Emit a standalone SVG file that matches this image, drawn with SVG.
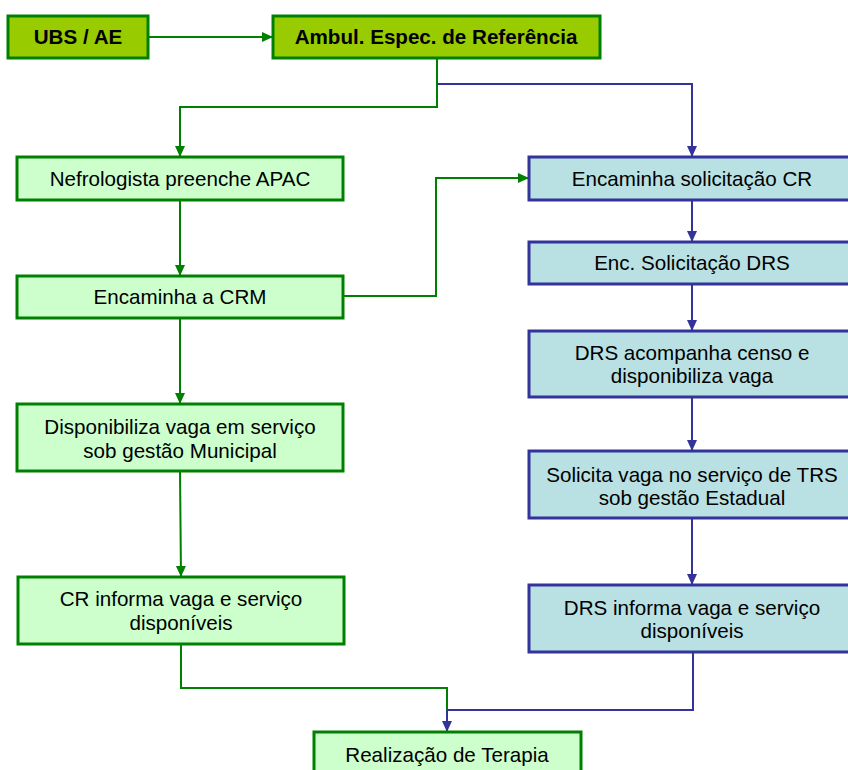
<svg xmlns="http://www.w3.org/2000/svg" width="848" height="770" viewBox="0 0 848 770">
  <style>
    text { font-family: "Liberation Sans", Arial, sans-serif; font-size: 20.6px; fill: #000; text-anchor: middle; }
    .title { font-weight: bold; }
    .head { fill: #99cc00; stroke: #008000; stroke-width: 3; }
    .mun { fill: #ccffcc; stroke: #008000; stroke-width: 3; }
    .est { fill: #b9e0e3; stroke: #333399; stroke-width: 3; }
    .g { fill: none; stroke: #008000; stroke-width: 2; }
    .b { fill: none; stroke: #333399; stroke-width: 2; }
  </style>
  <defs>
    <marker id="arrG" markerUnits="userSpaceOnUse" markerWidth="12" markerHeight="12" viewBox="0 0 12 12" refX="11" refY="6" orient="auto">
      <path d="M0,1 L11,6 L0,11 Z" fill="#008000"/>
    </marker>
    <marker id="arrB" markerUnits="userSpaceOnUse" markerWidth="12" markerHeight="12" viewBox="0 0 12 12" refX="11" refY="6" orient="auto">
      <path d="M0,1 L11,6 L0,11 Z" fill="#333399"/>
    </marker>
  </defs>

  <!-- connectors -->
  <g id="connectors">
    <path class="g" d="M148,37 H273" marker-end="url(#arrG)"/>
    <path class="g" d="M437,58 V107 H180 V157" marker-end="url(#arrG)"/>
    <path class="b" d="M437,84 H692 V157" marker-end="url(#arrB)"/>
    <path class="g" d="M180,200 V276" marker-end="url(#arrG)"/>
    <path class="g" d="M343,296 H436 V178 H529" marker-end="url(#arrG)"/>
    <path class="g" d="M180,318 V404" marker-end="url(#arrG)"/>
    <path class="g" d="M180,471 L181,577" marker-end="url(#arrG)"/>
    <path class="g" d="M181,644 V688 H447 V710"/>
    <path class="b" d="M692,200 V242" marker-end="url(#arrB)"/>
    <path class="b" d="M692,284 V331" marker-end="url(#arrB)"/>
    <path class="b" d="M692,397 V451" marker-end="url(#arrB)"/>
    <path class="b" d="M692,518 V585" marker-end="url(#arrB)"/>
    <path class="b" d="M693,652 V710 H447 V732" marker-end="url(#arrB)"/>
  </g>

  <!-- top level -->
  <g id="ubs">
    <rect class="head" x="8" y="16" width="140" height="42"/>
    <text class="title" x="78" y="44">UBS / AE</text>
  </g>
  <g id="ambulatorio">
    <rect class="head" x="273" y="16" width="327" height="42"/>
    <text class="title" x="436" y="44">Ambul. Espec. de Referência</text>
  </g>

  <!-- municipal branch -->
  <g id="nefrologista">
    <rect class="mun" x="17" y="157" width="326" height="43"/>
    <text x="180" y="186">Nefrologista preenche APAC</text>
  </g>
  <g id="crm">
    <rect class="mun" x="17" y="276" width="326" height="42"/>
    <text x="180" y="304">Encaminha a CRM</text>
  </g>
  <g id="vaga-municipal">
    <rect class="mun" x="17" y="404" width="326" height="67"/>
    <text x="180" y="434">Disponibiliza vaga em serviço</text>
    <text x="180" y="458">sob gestão Municipal</text>
  </g>
  <g id="cr-informa">
    <rect class="mun" x="18" y="577" width="326" height="67"/>
    <text x="181" y="606">CR informa vaga e serviço</text>
    <text x="181" y="630">disponíveis</text>
  </g>

  <!-- state branch -->
  <g id="solicitacao-cr">
    <rect class="est" x="529" y="157" width="330" height="43"/>
    <text x="692" y="186">Encaminha solicitação CR</text>
  </g>
  <g id="solicitacao-drs">
    <rect class="est" x="529" y="242" width="330" height="42"/>
    <text x="692" y="270">Enc. Solicitação DRS</text>
  </g>
  <g id="drs-censo">
    <rect class="est" x="529" y="331" width="330" height="66"/>
    <text x="692" y="360">DRS acompanha censo e</text>
    <text x="692" y="383">disponibiliza vaga</text>
  </g>
  <g id="vaga-estadual">
    <rect class="est" x="529" y="451" width="330" height="67"/>
    <text x="692" y="482">Solicita vaga no serviço de TRS</text>
    <text x="692" y="505">sob gestão Estadual</text>
  </g>
  <g id="drs-informa">
    <rect class="est" x="529" y="585" width="330" height="67"/>
    <text x="692" y="615">DRS informa vaga e serviço</text>
    <text x="692" y="638">disponíveis</text>
  </g>

  <!-- outcome -->
  <g id="terapia">
    <rect class="mun" x="314" y="732" width="267" height="50"/>
    <text x="447" y="762">Realização de Terapia</text>
  </g>
</svg>
